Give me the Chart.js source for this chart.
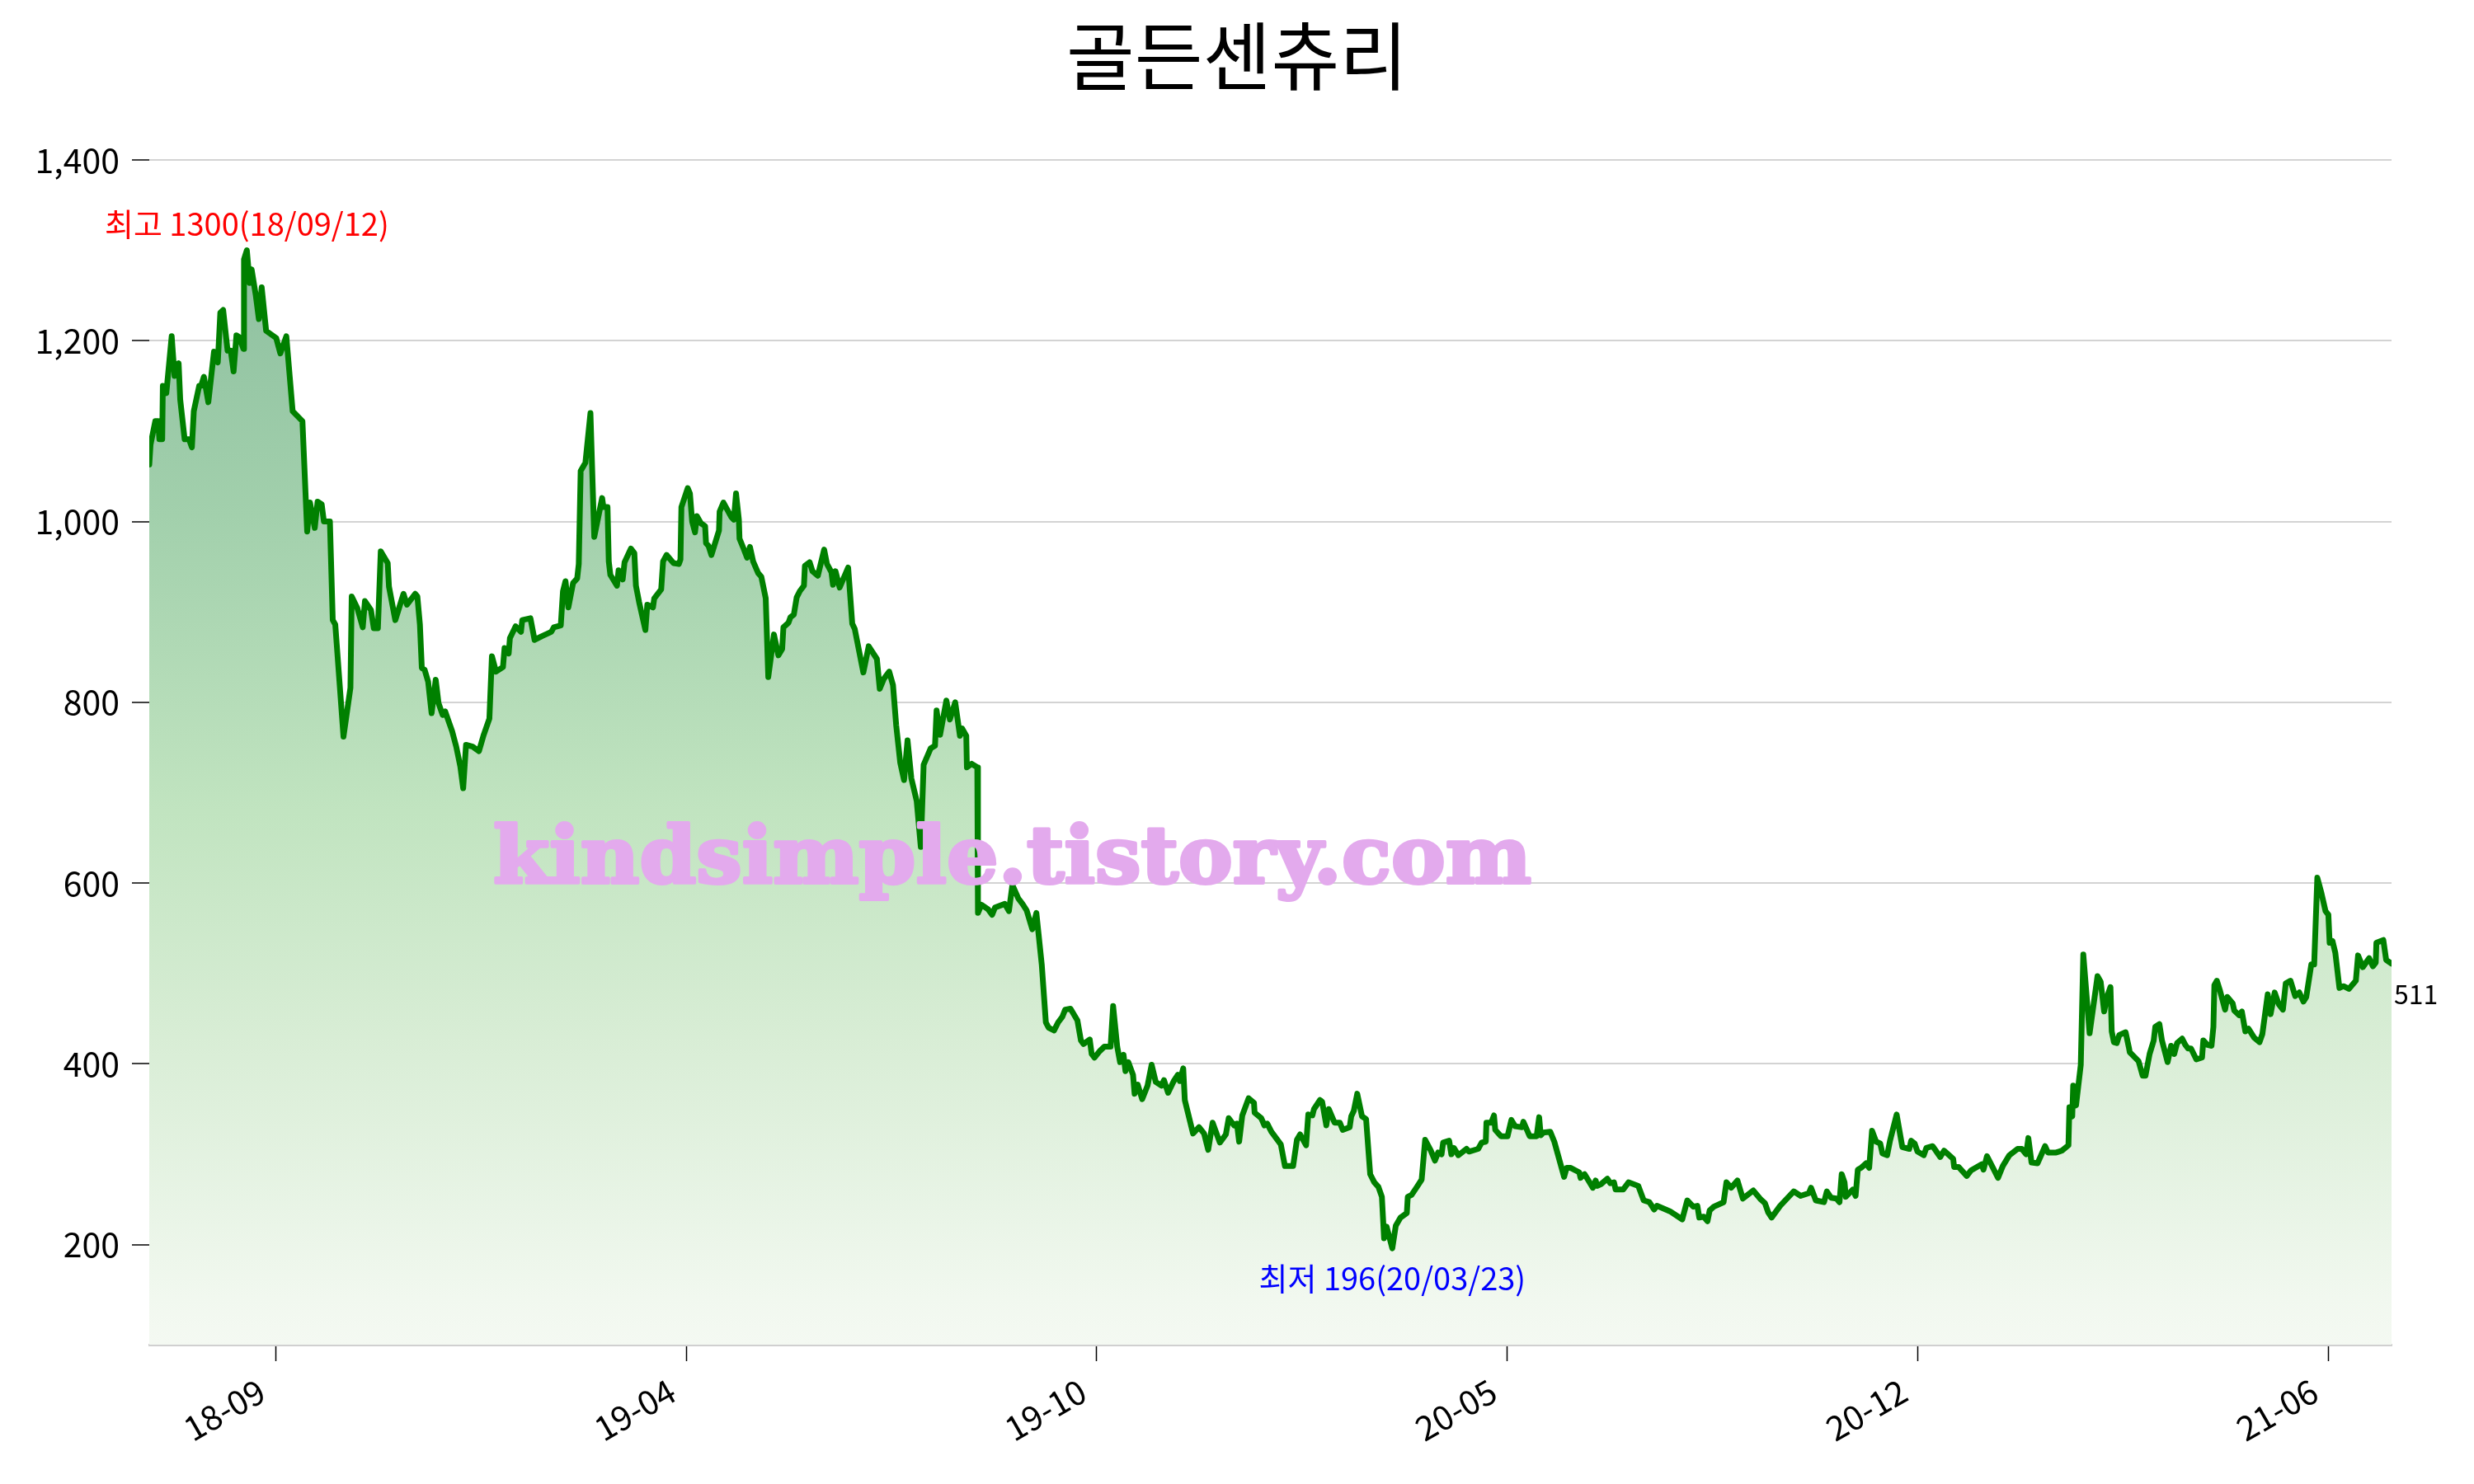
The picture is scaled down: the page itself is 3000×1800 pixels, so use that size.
<!DOCTYPE html>
<html>
<head>
<meta charset="utf-8">
<script src="https://cdn.jsdelivr.net/npm/chart.js@4/dist/chart.umd.min.js"></script>
<style>
  body { margin: 0; background: #fff; }
  #wrap { width: 3000px; height: 1800px; position: relative; }
</style>
</head>
<body>
<div id="wrap"><canvas id="priceChart"></canvas></div>
<script>
// ---- data (trading-day index, closing price) ----
const tradingDay = [
  0, 0.4, 1.9, 2.8, 3.2, 4.1, 4.3, 5.4, 7.1, 8.0, 9.3, 9.8, 11.2, 12.6, 13.5, 14.1, 15.8, 16.4, 17.3, 18.7,
  20.5, 21.7, 22.5, 23.4, 24.8, 25.8, 26.7, 27.6, 28.5, 29.8, 30.0, 30.9, 31.8, 32.4, 33.7, 34.7, 35.6, 37.0, 40.2, 41.5,
  43.4, 45.4, 48.5, 50.0, 50.9, 52.4, 53.3, 54.6, 55.3, 57.2, 58.1, 58.9, 61.5, 63.7, 64.1, 65.9, 67.6, 68.3, 70.2, 71.1,
  72.4, 73.3, 75.5, 75.9, 77.9, 80.5, 81.6, 84.2, 84.9, 85.7, 86.3, 87.2, 88.3, 89.4, 90.7, 91.6, 92.9, 93.7, 95.0, 95.9,
  97.2, 98.5, 99.4, 100.3, 102.4, 104.4, 105.9, 107.7, 108.5, 109.8, 112.0, 112.5, 113.8, 114.2, 116.0, 117.7, 118.1, 120.7, 122.0, 124.2,
  127.3, 128.1, 130.3, 131.0, 131.8, 132.7, 134.2, 135.5, 136.0, 136.6, 138.1, 139.7, 140.9, 143.4, 143.8, 145.1, 145.5, 146.0, 148.1, 148.6,
  149.9, 150.5, 152.5, 153.6, 154.1, 155.1, 157.1, 157.7, 159.5, 159.9, 162.1, 162.7, 163.8, 166.0, 167.7, 168.2, 168.5, 170.5, 171.2, 171.9,
  172.8, 173.4, 174.7, 176.0, 176.3, 177.1, 178.0, 180.4, 180.6, 181.8, 184.3, 185.1, 185.8, 186.7, 186.9, 188.2, 189.3, 190.2, 191.2, 192.8,
  193.8, 195.2, 196.0, 197.8, 199.2, 200.4, 200.8, 202.4, 203.0, 204.1, 205.0, 206.0, 207.3, 207.6, 209.1, 210.0, 211.7, 213.7, 214.6, 216.0,
  216.5, 217.3, 218.6, 221.3, 222.6, 223.4, 226.1, 227.8, 230.4, 231.3, 232.6, 234.3, 235.5, 236.5, 237.8, 239.0, 240.1, 241.3, 243.0, 244.3,
  245.2, 247.4, 248.8, 249.3, 250.4, 252.4, 253.5, 255.2, 256.7, 257.4, 258.7, 258.9, 260.4, 262.2, 262.4, 263.5, 265.6, 266.9, 267.8, 270.9,
  272.2, 273.3, 275.2, 276.5, 277.8, 279.6, 280.9, 282.6, 283.9, 284.8, 286.5, 287.8, 289.1, 290.0, 291.7, 293.9, 295.0, 295.8, 297.8, 298.4,
  299.3, 300.9, 302.4, 304.4, 305.2, 306.5, 307.4, 308.5, 309.1, 310.0, 311.5, 312.0, 313.0, 314.4, 316.1, 317.4, 318.7, 320.5, 321.3, 322.6,
  324.4, 325.7, 326.3, 327.4, 327.9, 330.5, 332.4, 334.0, 335.3, 336.7, 339.0, 340.9, 341.8, 343.5, 344.4, 345.1, 346.1, 348.1, 349.8, 350.0,
  352.1, 353.1, 354.0, 355.3, 358.3, 359.6, 362.2, 363.4, 364.4, 366.3, 367.0, 368.3, 368.8, 370.7, 371.4, 372.7, 373.5, 375.3, 377.0, 377.9,
  380.1, 380.6, 381.4, 382.5, 384.0, 385.3, 386.6, 387.9, 389.2, 390.3, 391.0, 391.8, 393.6, 394.7, 396.2, 398.2, 398.5, 399.7, 401.4, 402.9,
  404.0, 405.8, 407.1, 408.1, 409.2, 409.7, 411.6, 412.3, 413.1, 414.5, 417.1, 417.9, 420.8, 421.9, 423.2, 423.4, 424.9, 425.8, 426.2, 428.0,
  430.1, 431.3, 432.5, 434.7, 435.1, 437.1, 439.3, 440.1, 440.6, 441.4, 443.6, 444.9, 448.0, 448.8, 450.1, 452.8, 453.2, 454.5, 457.1, 458.0,
  458.4, 459.7, 461.7, 462.6, 463.8, 464.3, 466.7, 468.4, 471.5, 473.2, 475.0, 476.5, 477.4, 481.5, 485.4, 487.0, 488.9, 490.2, 490.8, 492.2,
  493.4, 494.1, 495.4, 498.5, 499.4, 500.9, 502.9, 504.6, 507.9, 510.3, 511.6, 512.6, 513.7, 516.4, 520.7, 522.9, 525.5, 526.2, 527.7, 530.3,
  531.2, 532.5, 534.2, 535.2, 535.9, 536.8, 537.2, 539.4, 540.3, 541.0, 542.0, 543.6, 544.6, 545.5, 546.8, 548.1, 548.8, 550.3, 551.2, 553.3,
  555.1, 557.3, 557.9, 559.0, 559.9, 561.9, 562.7, 564.7, 567.1, 568.3, 569.9, 571.2, 571.5, 572.9, 575.5, 576.8, 580.2, 580.8, 581.9, 585.4,
  586.9, 589.0, 591.6, 592.9, 594.3, 595.0, 596.0, 597.9, 600.3, 601.2, 603.8, 604.7, 605.6, 607.7, 608.0, 608.9, 609.2, 610.1, 611.6, 612.4,
  614.4, 616.9, 617.9, 619.0, 619.9, 621.0, 621.4, 622.1, 623.0, 623.8, 625.8, 626.9, 627.1, 629.9, 631.2, 632.1, 633.4, 634.7, 635.2, 636.5,
  637.3, 639.1, 640.2, 641.2, 642.1, 643.7, 644.7, 645.6, 646.5, 648.2, 650.0, 650.4, 651.7, 653.0, 653.6, 653.9, 654.7, 655.6, 657.3, 658.0,
  659.7, 660.2, 661.7, 662.6, 663.7, 664.7, 666.5, 668.2, 669.1, 670.8, 671.7, 673.0, 674.3, 675.6, 676.5, 678.0, 679.5, 680.8, 682.1, 683.0,
  684.6, 685.5, 686.5, 687.8, 689.1, 690.0, 690.4, 691.3, 692.2, 693.5, 694.8, 696.5, 698.7, 699.4, 700.9, 702.9, 704.1, 705.0, 705.2, 707.4,
  708.3, 710
];
const price = [
  1063, 1085, 1111, 1111, 1091, 1091, 1150, 1142, 1205, 1161, 1175, 1135, 1091, 1091, 1082, 1122, 1150, 1150, 1160, 1132,
  1188, 1176, 1231, 1234, 1189, 1189, 1166, 1206, 1204, 1191, 1290, 1300, 1264, 1279, 1251, 1224, 1259, 1211, 1203, 1186,
  1205, 1122, 1111, 989, 1021, 993, 1022, 1019, 1000, 1000, 891, 886, 762, 816, 917, 904, 883, 912, 902, 882,
  882, 967, 954, 928, 891, 920, 908, 920, 917, 886, 838, 836, 823, 788, 825, 799, 786, 790, 777, 768,
  751, 729, 705, 753, 751, 746, 764, 782, 851, 834, 839, 860, 854, 871, 884, 878, 891, 893, 869, 873,
  878, 883, 885, 923, 934, 905, 932, 937, 953, 1056, 1065, 1120, 983, 1026, 1016, 1016, 956, 941, 929, 946,
  936, 955, 970, 965, 929, 911, 880, 908, 905, 915, 925, 956, 963, 954, 953, 958, 1016, 1037, 1031, 1000,
  988, 1006, 998, 995, 976, 973, 963, 990, 1011, 1021, 1005, 1002, 1031, 1002, 981, 970, 960, 972, 956, 943,
  939, 915, 828, 875, 852, 859, 883, 888, 894, 897, 916, 923, 929, 951, 955, 945, 940, 969, 953, 944,
  930, 945, 927, 949, 887, 881, 833, 862, 848, 815, 826, 834, 819, 775, 733, 714, 758, 716, 691, 640,
  731, 749, 752, 791, 764, 802, 781, 800, 763, 771, 763, 728, 732, 728, 567, 576, 571, 565, 573, 577,
  569, 598, 583, 577, 570, 549, 567, 510, 446, 440, 437, 446, 452, 460, 461, 448, 426, 422, 427, 411,
  407, 414, 419, 419, 464, 419, 402, 410, 392, 402, 388, 367, 377, 361, 376, 399, 380, 376, 382, 368,
  381, 388, 381, 395, 360, 323, 330, 323, 305, 335, 313, 322, 340, 332, 334, 314, 343, 362, 357, 346,
  340, 332, 334, 325, 311, 287, 287, 316, 322, 310, 344, 343, 350, 360, 358, 332, 350, 335, 335, 327,
  330, 342, 348, 367, 342, 339, 278, 269, 264, 253, 207, 220, 196, 221, 230, 235, 253, 255, 264, 272,
  316, 304, 293, 302, 300, 313, 315, 300, 307, 299, 306, 303, 306, 313, 314, 335, 335, 343, 327, 320,
  320, 338, 331, 330, 336, 320, 320, 341, 321, 324, 325, 314, 275, 285, 285, 280, 274, 278, 263, 271,
  265, 267, 273, 268, 269, 261, 261, 269, 265, 249, 247, 239, 243, 237, 228, 249, 242, 243, 230, 231,
  226, 238, 242, 247, 269, 263, 271, 251, 260, 250, 246, 236, 230, 243, 259, 254, 257, 263, 249, 247,
  259, 252, 251, 247, 278, 269, 253, 261, 254, 283, 285, 290, 285, 326, 314, 312, 301, 299, 315, 344,
  308, 306, 315, 312, 303, 299, 307, 309, 297, 304, 299, 295, 286, 286, 276, 282, 289, 283, 298, 274,
  287, 299, 306, 306, 300, 318, 291, 290, 309, 302, 302, 303, 304, 310, 352, 342, 376, 354, 399, 521,
  434, 497, 491, 458, 474, 485, 436, 424, 423, 432, 435, 417, 413, 403, 387, 387, 411, 426, 441, 444,
  426, 402, 420, 411, 423, 428, 421, 417, 417, 405, 407, 426, 421, 420, 441, 487, 492, 482, 460, 474,
  467, 459, 454, 458, 436, 439, 429, 424, 433, 477, 455, 479, 466, 460, 489, 492, 475, 479, 469, 474,
  510, 510, 606, 589, 569, 565, 534, 536, 523, 484, 486, 483, 492, 520, 507, 517, 508, 512, 534, 537,
  515, 511
];
const tickDays = [40, 170, 300, 430, 560, 690];
const tickLabels = ['18-09', '19-04', '19-10', '20-05', '20-12', '21-06'];
const yTicks = [200, 400, 600, 800, 1000, 1200, 1400];
const chartTitle = '골든센츄리';
const highDate = '18/09/12';
const lowDate = '20/03/23';
const watermark = 'kindsimple.tistory.com';

const FONT = '"Noto Sans CJK KR", "Noto Sans", sans-serif';

// gradient under the line
function fillGradient(ctx) {
  const chart = ctx.chart;
  const a = chart.chartArea;
  if (!a) return 'rgba(0,0,0,0)';
  const g = chart.ctx.createLinearGradient(0, a.top, 0, a.bottom);
  g.addColorStop(0, 'rgb(136,188,156)');
  g.addColorStop(0.08, 'rgb(142,192,160)');
  g.addColorStop(0.3, 'rgb(162,208,172)');
  g.addColorStop(0.55, 'rgb(193,228,192)');
  g.addColorStop(0.74, 'rgb(216,237,213)');
  g.addColorStop(0.96, 'rgb(241,248,239)');
  g.addColorStop(1, 'rgb(244,249,242)');
  return g;
}

// title, rotated month labels, high/low notes, last value, watermark
const decorations = {
  id: 'decorations',
  afterDatasetsDraw(chart) {
    const c = chart.ctx;
    c.save();
    c.font = 'bold 96px "DejaVu Serif", serif';
    const w = c.measureText(watermark).width;
    c.translate(598, 1071);
    c.scale(1259 / w, 1);
    c.fillStyle = 'rgb(227,170,237)';
    c.strokeStyle = 'rgb(227,170,237)';
    c.lineWidth = 4;
    c.lineJoin = 'round';
    c.textBaseline = 'alphabetic';
    c.textAlign = 'left';
    c.strokeText(watermark, 0, 0);
    c.fillText(watermark, 0, 0);
    c.restore();
  },
  afterDraw(chart) {
    const c = chart.ctx;
    const xs = chart.scales.x, ys = chart.scales.y;
    c.save();
    c.fillStyle = '#000';
    c.textAlign = 'center';
    c.textBaseline = 'alphabetic';
    c.font = '90px ' + FONT;
    c.fillText(chartTitle, 1500, 102);

    // x tick labels, rotated 30 degrees and right-aligned under each tick
    c.font = '41px ' + FONT;
    c.textAlign = 'right';
    tickDays.forEach((d, i) => {
      c.save();
      c.translate(xs.getPixelForValue(d) - 9, xs.top + 66);
      c.rotate(-Math.PI / 6);
      c.fillText(tickLabels[i], 0, 0);
      c.restore();
    });

    const hi = Math.max(...price), lo = Math.min(...price);
    const hiI = price.indexOf(hi), loI = price.indexOf(lo);
    c.textAlign = 'center';
    c.font = '38px ' + FONT;
    c.fillStyle = '#ff0000';
    c.fillText('최고 ' + hi + '(' + highDate + ')', xs.getPixelForValue(tradingDay[hiI]), ys.getPixelForValue(hi) - 18);
    c.fillStyle = '#0000ff';
    c.fillText('최저 ' + lo + '(' + lowDate + ')', xs.getPixelForValue(tradingDay[loI]), ys.getPixelForValue(lo) + 51);

    const last = price.length - 1;
    c.textAlign = 'left';
    c.fillStyle = '#000';
    c.font = '32px ' + FONT;
    c.fillText(String(price[last]), xs.getPixelForValue(tradingDay[last]) + 3, ys.getPixelForValue(price[last]) + 49);
    c.restore();
  }
};

new Chart(document.getElementById('priceChart'), {
  type: 'line',
  data: {
    datasets: [{
      data: tradingDay.map((d, i) => ({ x: d, y: price[i] })),
      borderColor: '#008000',
      borderWidth: 7,
      borderJoinStyle: 'round',
      borderCapStyle: 'round',
      pointRadius: 0,
      tension: 0,
      fill: 'start',
      backgroundColor: fillGradient
    }]
  },
  options: {
    responsive: true,
    maintainAspectRatio: false,
    devicePixelRatio: 1,
    animation: false,
    layout: { padding: { top: 194, right: 100, left: 0, bottom: 0 } },
    plugins: { legend: { display: false }, title: { display: false }, tooltip: { enabled: false } },
    scales: {
      x: {
        type: 'linear',
        min: 0,
        max: 710,
        afterBuildTicks: s => { s.ticks = tickDays.map(v => ({ value: v })); },
        afterFit: s => { s.height = 169; },
        ticks: { display: false },
        grid: { drawOnChartArea: false, tickColor: '#000', tickLength: 20, tickWidth: 1.5 },
        border: { display: true, color: '#d0d0d0', width: 3 }
      },
      y: {
        min: 89.4,
        max: 1400,
        afterBuildTicks: s => { s.ticks = yTicks.map(v => ({ value: v })); },
        afterFit: s => { s.width = 181; },
        ticks: {
          padding: 15,
          color: '#000',
          font: { family: FONT, size: 41 },
          callback: v => v.toLocaleString('en-US')
        },
        grid: { color: '#d3d3d3', lineWidth: 2, tickColor: '#000', tickLength: 21, tickWidth: 1.5 },
        border: { display: false }
      }
    }
  },
  plugins: [decorations]
});
</script>
</body>
</html>
